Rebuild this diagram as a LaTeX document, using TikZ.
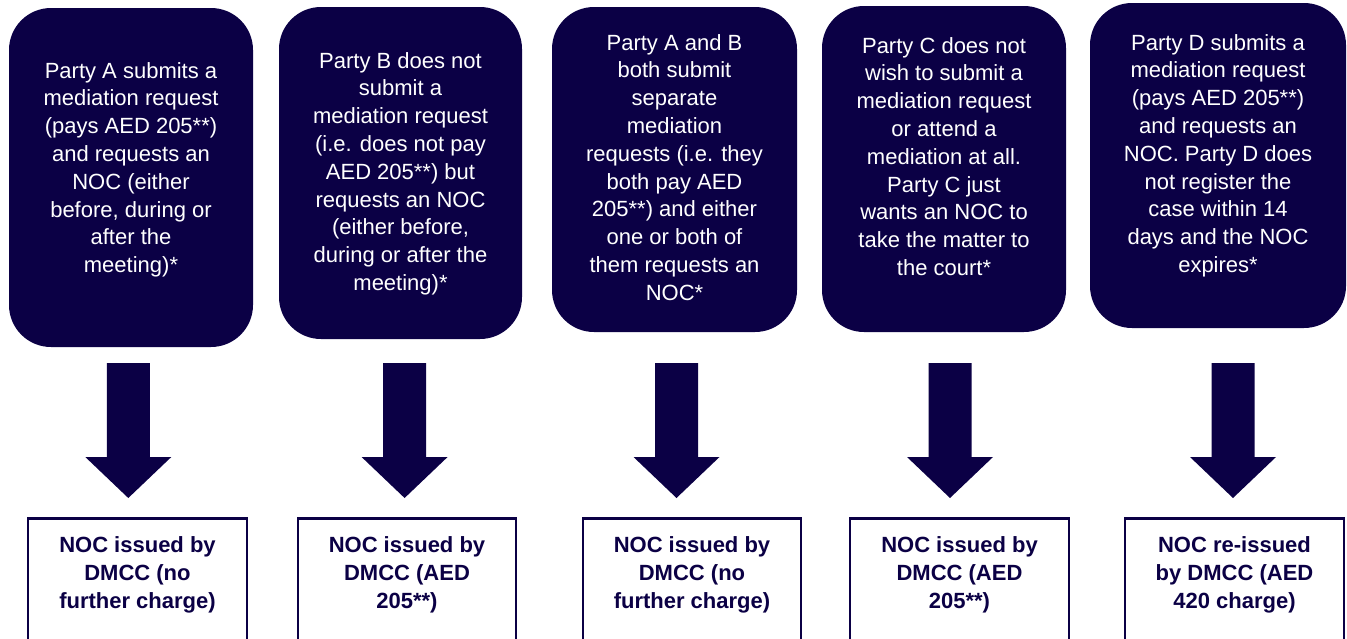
\documentclass[tikz,border=0pt]{standalone}
\usepackage{fontspec}
\setmainfont{Liberation Sans}
\definecolor{navy}{HTML}{0B0045}
\tikzset{
  topbox/.style={fill=navy, draw=none, rounded corners=42pt, inner sep=0pt},
  toptext/.style={text=white, align=center, inner sep=0pt, anchor=north,
    font=\fontsize{22}{27.8}\selectfont},
  botbox/.style={draw=navy, line width=2.75pt, fill=white, minimum width=219pt,
    minimum height=150pt, anchor=north, inner sep=0pt},
  bottext/.style={text=navy, align=center, inner sep=0pt, anchor=north,
    font=\fontsize{22}{28}\selectfont\bfseries},
  pics/blockarrow/.style={code={
    \fill[navy] (-21.5,0) -- (21.5,0) -- (21.5,94) -- (43,94) -- (0,135)
      -- (-43,94) -- (-21.5,94) -- cycle;}}
}
\begin{document}
\begin{tikzpicture}[x=1pt,y=-1pt]
\useasboundingbox (0,0) rectangle (1347,638);
\clip (0,0) rectangle (1347,638);
% top boxes
\node[topbox, minimum width=244pt, minimum height=339pt] (a) at (131,177.5) {};
\node[topbox, minimum width=243pt, minimum height=332pt] (b) at (400.5,173) {};
\node[topbox, minimum width=245pt, minimum height=325pt] (c) at (674.5,169.5) {};
\node[topbox, minimum width=244pt, minimum height=326pt] (d) at (944,169) {};
\node[topbox, minimum width=256pt, minimum height=325pt] (e) at (1218,165.5) {};
\node[toptext] (ta) at (131,62) {Party A submits a\\mediation request\\(pays AED 205**)\\and requests an\\NOC (either\\before, during or\\after the\\meeting)*};
\node[toptext] (tb) at (400.5,52) {Party B does not\\submit a\\mediation request\\(i.e. does not pay\\AED 205**) but\\requests an NOC\\(either before,\\during or after the\\meeting)*};
\node[toptext] (tc) at (674.5,34) {Party A and B\\both submit\\separate\\mediation\\requests (i.e. they\\both pay AED\\205**) and either\\one or both of\\them requests an\\NOC*};
\node[toptext] (td) at (944,37) {Party C does not\\wish to submit a\\mediation request\\or attend a\\mediation at all.\\Party C just\\wants an NOC to\\take the matter to\\the court*};
\node[toptext] (te) at (1218,34) {Party D submits a\\mediation request\\(pays AED 205**)\\and requests an\\NOC. Party D does\\not register the\\case within 14\\days and the NOC\\expires*};
% arrows
\coordinate (ar1) at (128.3,363);
\coordinate (ar2) at (404.6,363);
\coordinate (ar3) at (676.5,363);
\coordinate (ar4) at (950,363);
\coordinate (ar5) at (1233,363);
\foreach \n in {1,...,5} { \pic at (ar\n) {blockarrow}; }
% bottom boxes
\node[botbox] (ba) at (137.5,517) {};
\node[botbox, minimum width=218pt] (bb) at (407,517) {};
\node[botbox, minimum width=218pt] (bc) at (692,517) {};
\node[botbox] (bd) at (959.5,517) {};
\node[botbox] (be) at (1234.5,517) {};
\node[bottext] (tba) at (137.5,536) {NOC issued by\\DMCC (no\\further charge)};
\node[bottext] (tbb) at (407,536) {NOC issued by\\DMCC (AED\\205**)};
\node[bottext] (tbc) at (692,536) {NOC issued by\\DMCC (no\\further charge)};
\node[bottext] (tbd) at (959.5,536) {NOC issued by\\DMCC (AED\\205**)};
\node[bottext] (tbe) at (1234.5,536) {NOC re-issued\\by DMCC (AED\\420 charge)};
\end{tikzpicture}
\end{document}
